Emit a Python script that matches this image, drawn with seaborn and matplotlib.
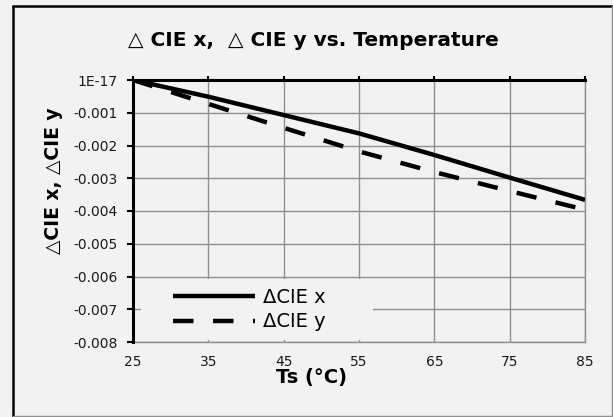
import matplotlib
matplotlib.use("Agg")
import matplotlib.pyplot as plt
import seaborn as sns
import pandas as pd
from matplotlib.lines import Line2D
from matplotlib.patches import Rectangle
from matplotlib.ticker import FixedLocator, FixedFormatter

# ---- data ----
temps = [25, 35, 45, 55, 65, 75, 85]
cie_x = [0.0, -0.00051, -0.00107, -0.00163, -0.00229, -0.00298, -0.00366]
cie_y = [0.0, -0.00073, -0.00146, -0.00218, -0.00281, -0.00339, -0.00396]
series_names = ["ΔCIE x", "ΔCIE y"]
x_ticks = [25, 35, 45, 55, 65, 75, 85]
y_ticks = [0.0, -0.001, -0.002, -0.003, -0.004, -0.005, -0.006, -0.007, -0.008]
y_tick_labels = ["1E-17", "-0.001", "-0.002", "-0.003", "-0.004", "-0.005",
                 "-0.006", "-0.007", "-0.008"]
title = "△ CIE x,  △ CIE y vs. Temperature"
x_label = "Ts (°C)"
y_label = "△CIE x, △CIE y"

df = pd.DataFrame({
    "T": temps * 2,
    "val": cie_x + cie_y,
    "series": [series_names[0]] * len(temps) + [series_names[1]] * len(temps),
})

sns.set_theme(style="white")
plt.rcParams["font.family"] = ["DejaVu Sans"]
plt.rcParams["text.color"] = "black"
plt.rcParams["axes.labelcolor"] = "black"
bg = "#f2f2f2"
grid_c = "#8f8f8f"

W, H = 613, 417
fig = plt.figure(figsize=(W / 100, H / 100), dpi=100, facecolor=bg)
ax_l, ax_r, ax_t, ax_b = 133, 585, 80, 342
ax = fig.add_axes([ax_l / W, 1 - ax_b / H, (ax_r - ax_l) / W, (ax_b - ax_t) / H])
ax.set_facecolor(bg)

dash = (4.6, 4.4)
sns.lineplot(data=df, x="T", y="val", style="series",
             dashes={series_names[0]: "", series_names[1]: dash},
             color="black", linewidth=3.2, ax=ax, legend=False, zorder=5)
for ln in ax.get_lines():
    ln.set_solid_capstyle("butt")
    ln.set_dash_capstyle("butt")

ax.set_xlim(25, 85)
ax.set_ylim(-0.008, 0.0)
ax.xaxis.set_major_locator(FixedLocator(x_ticks))
ax.yaxis.set_major_locator(FixedLocator(y_ticks))
ax.yaxis.set_major_formatter(FixedFormatter(y_tick_labels))
ax.set_xticklabels([str(t) for t in x_ticks])

ax.grid(True, color=grid_c, linewidth=1.0)
ax.set_axisbelow(True)

for side in ["left", "top"]:
    ax.spines[side].set_color("black")
    ax.spines[side].set_linewidth(2.2)
    ax.spines[side].set_zorder(6)
for side in ["right", "bottom"]:
    ax.spines[side].set_color(grid_c)
    ax.spines[side].set_linewidth(1.0)

ax.tick_params(axis="x", top=True, bottom=False, labeltop=False, labelbottom=True,
               direction="out", length=3, width=1.5, color="black",
               labelsize=10, pad=6, labelcolor="#1a1a1a")
ax.tick_params(axis="y", left=True, direction="out", length=4, width=1.5,
               color="black", labelsize=10, pad=7, labelcolor="#1a1a1a")

def ax_x(px):
    return (px - ax_l) / (ax_r - ax_l)

def ax_y(py):
    return (ax_b - py) / (ax_b - ax_t)

ax.set_xlabel(x_label, fontsize=14, fontweight="bold")
ax.xaxis.set_label_coords(ax_x(312), ax_y(378))
ax.xaxis.label.set_va("center")
ax.set_ylabel(y_label, fontsize=13.5, fontweight="bold")
ax.yaxis.set_label_coords(ax_x(54), ax_y(181))
ax.yaxis.label.set_va("center")

fig.text(313 / W, 1 - 40 / H, title, ha="center", va="center",
         fontsize=14.5, fontweight="bold")

# legend background (hides gridlines)
ax.add_patch(Rectangle((ax_x(141), ax_y(340)), ax_x(373) - ax_x(141),
                       ax_y(278.5) - ax_y(340), transform=ax.transAxes,
                       facecolor=bg, edgecolor="none", zorder=3))
handles = [Line2D([], [], color="black", lw=3.2, solid_capstyle="butt"),
           Line2D([], [], color="black", lw=3.2, dashes=dash, dash_capstyle="butt")]
fs_leg = 14
fs_px = fs_leg * 100 / 72
leg = ax.legend(handles, series_names, loc="center left",
                bbox_to_anchor=(ax_x(173), ax_y(309.5)),
                frameon=False, fontsize=fs_leg, handlelength=82 / fs_px,
                handletextpad=8 / fs_px, borderpad=0, labelspacing=0.3,
                borderaxespad=0)
leg.set_zorder(10)

# outer chart border
x0, x1 = 12.5 / W, 611.5 / W
y0, y1 = 1 - 415.5 / H, 1 - 6 / H
fig.add_artist(Line2D([x0, x0], [y0, y1], color="black", lw=1.8, transform=fig.transFigure))
fig.add_artist(Line2D([x0, x1], [y1, y1], color="black", lw=1.8, transform=fig.transFigure))
fig.add_artist(Line2D([x1, x1], [y0, y1], color=grid_c, lw=1.0, transform=fig.transFigure))
fig.add_artist(Line2D([x0, x1], [y0, y0], color=grid_c, lw=1.0, transform=fig.transFigure))

fig.savefig("out.png", dpi=100, facecolor=bg)
